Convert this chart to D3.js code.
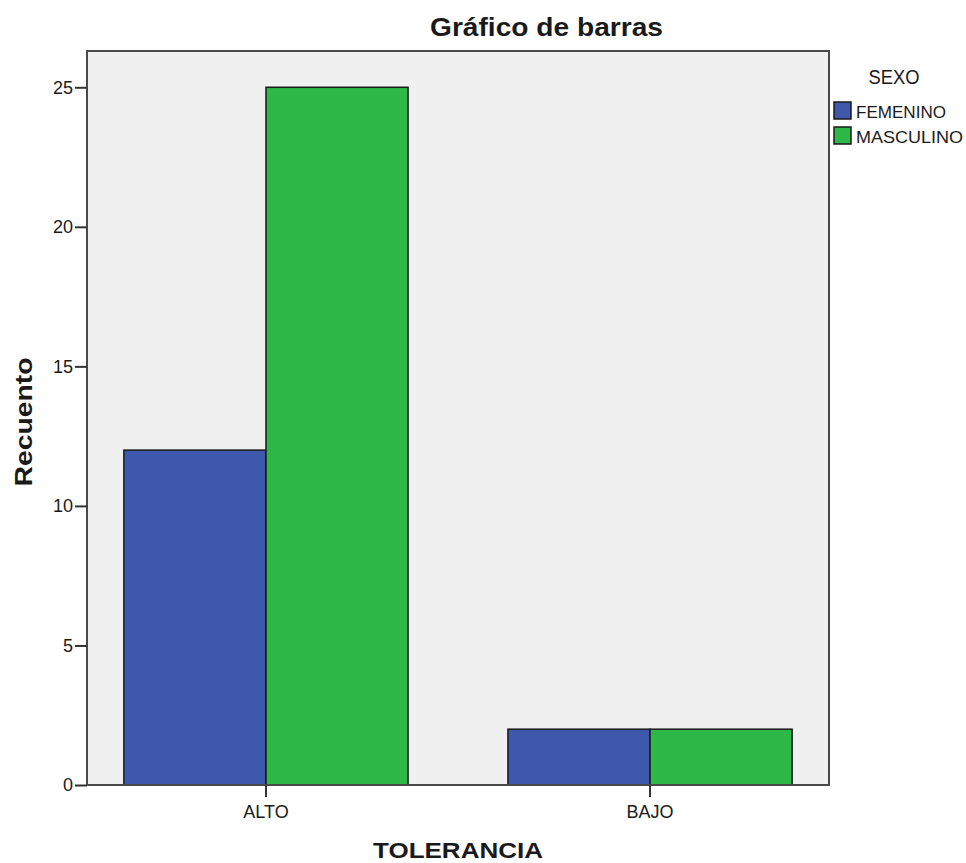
<!DOCTYPE html>
<html>
<head>
<meta charset="utf-8">
<script src="https://cdn.jsdelivr.net/npm/d3@7"></script>
<style>
  html, body { margin: 0; padding: 0; background: #fff; }
  svg { display: block; }
  text { font-family: "Liberation Sans", Arial, sans-serif; fill: #1a1a1a; }
</style>
</head>
<body>
<div id="chart"></div>
<script>
// ---- data ----
const categories = ["ALTO", "BAJO"];
const seriesNames = ["FEMENINO", "MASCULINO"];
const femenino = [12, 2];
const masculino = [25, 2];
const yTicks = [0, 5, 10, 15, 20, 25];
const seriesColors = ["#3e58ac", "#2eb848"];

const W = 966, H = 863;
const plot = { left: 87, right: 829, top: 51, bottom: 785 };

const svg = d3.select("#chart").append("svg").attr("width", W).attr("height", H);

const x = d3.scaleBand().domain(categories)
  .range([plot.left, plot.right]).paddingInner(0.26).paddingOuter(0.096);
const xs = d3.scaleBand().domain(seriesNames).range([0, x.bandwidth()]);
const y = d3.scaleLinear().domain([0, 26.3]).range([plot.bottom, plot.top]);

// plot background
svg.append("rect")
  .attr("x", plot.left).attr("y", plot.top)
  .attr("width", plot.right - plot.left).attr("height", plot.bottom - plot.top)
  .attr("fill", "#f0f0f0");

// bars
const data = categories.map((c, i) => ({ cat: c, vals: [femenino[i], masculino[i]] }));
const g = svg.append("g");
data.forEach(d => {
  d.vals.forEach((v, j) => {
    g.append("rect")
      .attr("x", x(d.cat) + xs(seriesNames[j]))
      .attr("y", y(v))
      .attr("width", xs.bandwidth())
      .attr("height", y(0) - y(v))
      .attr("fill", seriesColors[j])
      .attr("stroke", "#1a1a1a")
      .attr("stroke-width", 1.5);
  });
});

// frame
svg.append("rect")
  .attr("x", plot.left).attr("y", plot.top)
  .attr("width", plot.right - plot.left).attr("height", plot.bottom - plot.top)
  .attr("fill", "none").attr("stroke", "#4a4a4a").attr("stroke-width", 2);

// y axis
const yAxis = svg.append("g")
  .attr("transform", `translate(${plot.left},0)`)
  .call(d3.axisLeft(y).tickValues(yTicks).tickSize(12).tickPadding(2).tickFormat(d3.format("d")));
yAxis.select(".domain").remove();
yAxis.selectAll(".tick line").attr("stroke", "#333").attr("stroke-width", 2);
yAxis.selectAll(".tick text").attr("font-size", 18).attr("fill", "#1a1a1a")
  .style("font-family", "'Liberation Sans', Arial, sans-serif");

// x axis
const xAxis = svg.append("g")
  .attr("transform", `translate(0,${plot.bottom})`)
  .call(d3.axisBottom(x).tickSize(12).tickPadding(8));
xAxis.select(".domain").remove();
xAxis.selectAll(".tick line").attr("stroke", "#333").attr("stroke-width", 2);
xAxis.selectAll(".tick text").attr("font-size", 18).attr("fill", "#1a1a1a")
  .style("font-family", "'Liberation Sans', Arial, sans-serif");

// title
svg.append("text")
  .attr("x", 546.5).attr("y", 36).attr("text-anchor", "middle")
  .attr("font-size", 25).attr("font-weight", "bold")
  .attr("textLength", 233).attr("lengthAdjust", "spacingAndGlyphs")
  .text("Gráfico de barras");

// x axis title
svg.append("text")
  .attr("x", 458).attr("y", 858).attr("text-anchor", "middle")
  .attr("font-size", 22).attr("font-weight", "bold")
  .attr("textLength", 170).attr("lengthAdjust", "spacingAndGlyphs")
  .text("TOLERANCIA");

// y axis title
svg.append("text")
  .attr("transform", "translate(32,422) rotate(-90)")
  .attr("text-anchor", "middle")
  .attr("font-size", 24).attr("font-weight", "bold")
  .attr("textLength", 129).attr("lengthAdjust", "spacingAndGlyphs")
  .text("Recuento");

// legend
svg.append("text")
  .attr("x", 894).attr("y", 84).attr("text-anchor", "middle")
  .attr("font-size", 20).attr("fill", "#333")
  .attr("textLength", 51).attr("lengthAdjust", "spacingAndGlyphs")
  .text("SEXO");

const legend = svg.append("g");
seriesNames.forEach((s, i) => {
  const yy = 102 + i * 25;
  legend.append("rect")
    .attr("x", 834).attr("y", yy).attr("width", 17).attr("height", 17)
    .attr("fill", seriesColors[i]).attr("stroke", "#1a1a1a").attr("stroke-width", 1.5);
  legend.append("text")
    .attr("x", 856).attr("y", yy + 16)
    .attr("font-size", 17)
    .attr("textLength", i === 0 ? 90 : 107).attr("lengthAdjust", "spacingAndGlyphs")
    .text(s);
});
</script>
</body>
</html>
